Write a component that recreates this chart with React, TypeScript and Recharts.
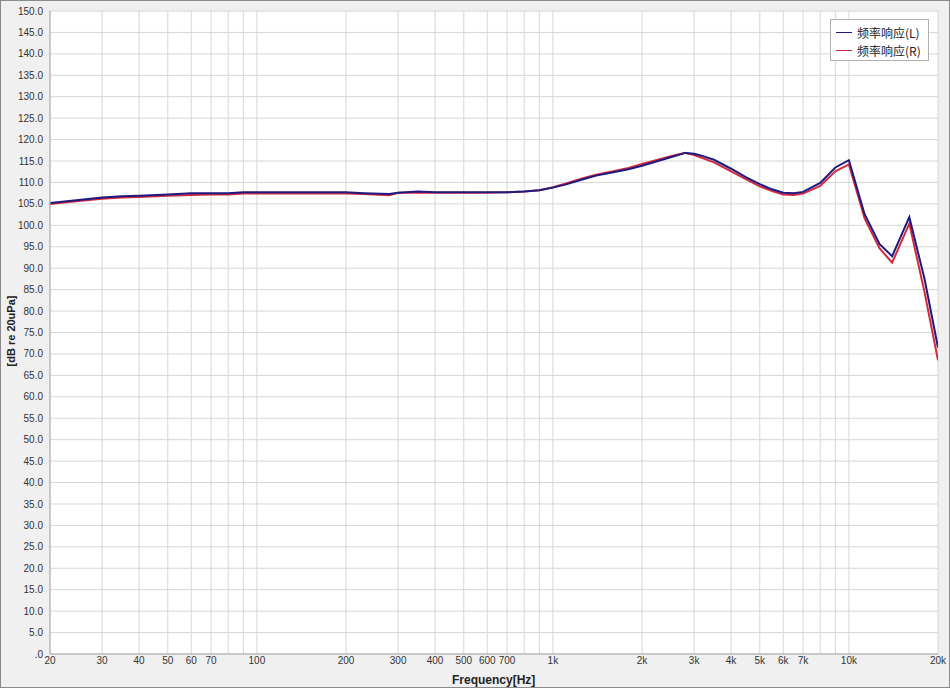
import { CartesianGrid, Line, LineChart, XAxis, YAxis } from 'recharts';

const freqs = [
	20, 25, 30, 35, 40, 50, 60, 70, 80, 90, 100, 150, 200, 230, 280, 300, 350, 400, 500, 600, 700, 800, 900,
	1000, 1100, 1200, 1300, 1400, 1600, 1800, 2000, 2500, 2800, 3000, 3200, 3500, 4000, 4500, 5000, 5500,
	6000, 6500, 7000, 8000, 9000, 10000, 11300, 12700, 14000, 16000, 18000, 20000,
];

const left = [
	105.2, 105.9, 106.5, 106.8, 106.9, 107.2, 107.5, 107.5, 107.5, 107.7, 107.7, 107.7, 107.7, 107.5, 107.3,
	107.6, 107.9, 107.7, 107.7, 107.7, 107.7, 107.9, 108.2, 108.8, 109.5, 110.3, 111.0, 111.6, 112.4, 113.1,
	113.9, 115.9, 116.9, 116.7, 116.2, 115.3, 113.2, 111.2, 109.6, 108.4, 107.6, 107.5, 107.8, 109.9, 113.5,
	115.2, 102.6, 95.6, 92.8, 101.9, 87.6, 71.5,
];

const right = [
	105.0, 105.7, 106.2, 106.5, 106.6, 106.9, 107.1, 107.2, 107.2, 107.4, 107.4, 107.4, 107.4, 107.3, 107.0,
	107.6, 107.6, 107.6, 107.6, 107.6, 107.7, 107.9, 108.2, 108.9, 109.7, 110.5, 111.2, 111.8, 112.6, 113.4,
	114.3, 116.1, 116.9, 116.4, 115.7, 114.7, 112.6, 110.7, 109.1, 108.0, 107.2, 107.1, 107.4, 109.2, 112.6,
	114.2, 101.6, 94.6, 91.3, 100.4, 84.5, 68.5,
];

const xTicks = [
	20, 30, 40, 50, 60, 70, 80, 90, 100, 200, 300, 400, 500, 600, 700, 800, 900, 1000, 2000, 3000, 4000, 5000,
	6000, 7000, 8000, 9000, 10000, 20000,
];
const hiddenX = [80, 90, 800, 900, 8000, 9000];

const yTicks = Array.from({ length: 31 }, (_, i) => i * 5);

const seriesNames = ['频率响应(L)', '频率响应(R)'];
const colors = ['#1f1a80', '#d3293d'];

const data = freqs.map((f, i) => ({ f, L: left[i], R: right[i] }));

const fmtX = (v: number) => {
	if (hiddenX.includes(v)) return '';
	if (v >= 1000) return `${v / 1000}k`;
	return String(v);
};

const fmtY = (v: number) => (v === 0 ? '.0' : v.toFixed(1));

const tickStyle = { fontSize: 10, fill: '#333', fontFamily: 'Liberation Sans, Arial, sans-serif' };

export default function App() {
	return (
		<div
			style={{
				position: 'absolute',
				left: 0,
				top: 0,
				width: 950,
				height: 688,
				background: '#f0f0f0',
				boxSizing: 'border-box',
				border: '1px solid #8a8a8a',
				fontFamily: 'Liberation Sans, Arial, sans-serif',
			}}
		>
			<div style={{ position: 'absolute', left: -1, top: -1 }}>
				<LineChart width={950} height={688} data={data} margin={{ top: 11, right: 12, bottom: 14, left: 0 }}>
					<CartesianGrid stroke="#d6d6d6" fill="#ffffff" ticks={xTicks} />
					<XAxis
						dataKey="f"
						type="number"
						scale="log"
						domain={[20, 20000]}
						ticks={xTicks}
						tickFormatter={fmtX}
						interval={0}
						height={20}
						tickLine={false}
						tickSize={0}
						tickMargin={3}
						axisLine={{ stroke: '#a8a8a8' }}
						tick={tickStyle}
						allowDataOverflow
					/>
					<YAxis
						type="number"
						domain={[0, 150]}
						ticks={yTicks}
						tickFormatter={fmtY}
						interval={0}
						width={50}
						tickLine={false}
						tickSize={0}
						tickMargin={7}
						axisLine={{ stroke: '#a8a8a8' }}
						tick={tickStyle}
					/>
					<Line
						dataKey="R"
						type="linear"
						stroke={colors[1]}
						strokeWidth={2}
						dot={false}
						isAnimationActive={false}
					/>
					<Line
						dataKey="L"
						type="linear"
						stroke={colors[0]}
						strokeWidth={2}
						dot={false}
						isAnimationActive={false}
					/>
				</LineChart>
			</div>
			<div
				style={{
					position: 'absolute',
					left: 451,
					top: 672,
					fontSize: 12,
					fontWeight: 'bold',
					color: '#222',
				}}
			>
				Frequency[Hz]
			</div>
			<div
				style={{
					position: 'absolute',
					left: 10,
					top: 330,
					fontSize: 11,
					fontWeight: 'bold',
					color: '#222',
					whiteSpace: 'nowrap',
					transform: 'translate(-50%, -50%) rotate(-90deg)',
				}}
			>
				[dB re 20uPa]
			</div>
			<div
				style={{
					position: 'absolute',
					left: 829,
					top: 18,
					width: 99,
					height: 42,
					background: '#fff',
					border: '1px solid #b0b0b0',
					boxSizing: 'border-box',
					padding: '3px 0 0 5px',
					fontSize: 12,
					color: '#222',
					fontFamily: 'Noto Sans CJK SC, sans-serif',
				}}
			>
				{seriesNames.map((n, i) => (
					<div key={n} style={{ display: 'flex', alignItems: 'center', height: 18 }}>
						<span style={{ width: 16, height: 1, background: colors[i], marginRight: 5 }} />
						<span>{n}</span>
					</div>
				))}
			</div>
		</div>
	);
}
